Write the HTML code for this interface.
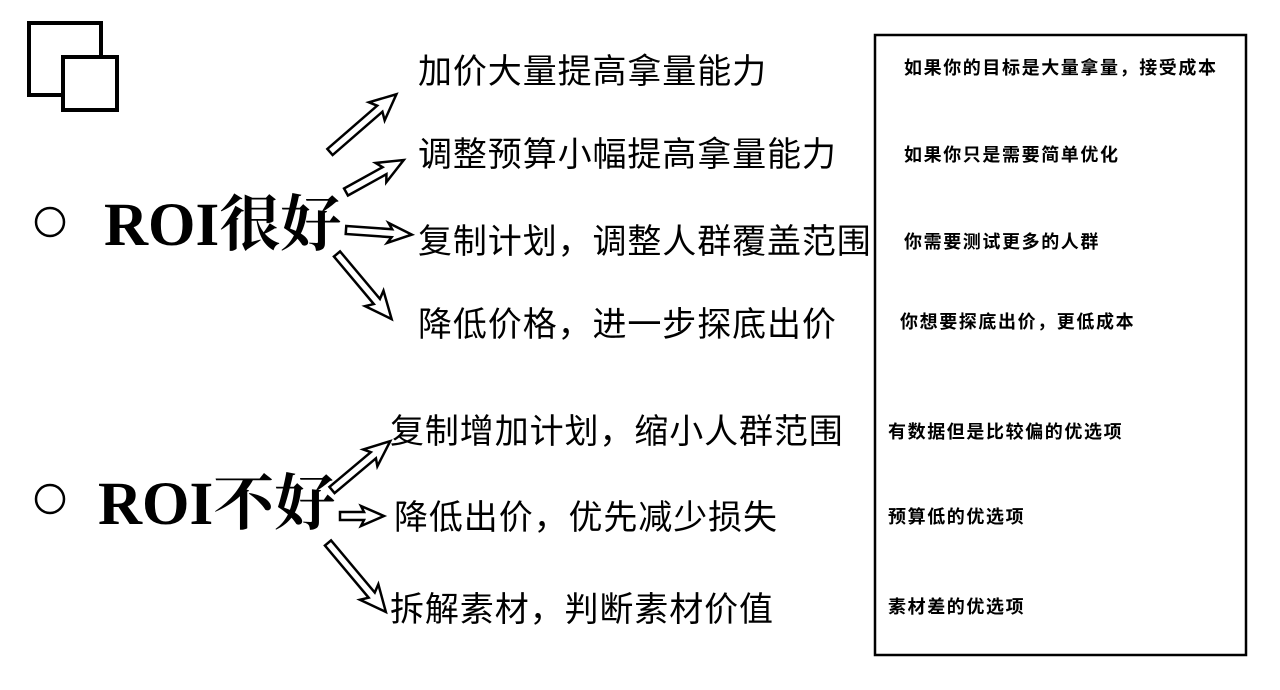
<!DOCTYPE html>
<html><head><meta charset="utf-8"><style>
body{margin:0;width:1280px;height:690px;background:#fff;position:relative;overflow:hidden;font-family:"Liberation Sans","Noto Sans CJK SC",sans-serif;color:#000}
.t{position:absolute;white-space:nowrap;font-size:34px;letter-spacing:0.9px;line-height:1;}
.s{position:absolute;white-space:nowrap;font-size:18px;letter-spacing:1.6px;line-height:1;font-weight:bold}
.big{position:absolute;white-space:nowrap;font-family:"Liberation Serif","Noto Serif CJK SC",serif;font-weight:bold;font-size:61px;line-height:1}
</style></head><body>
<svg width="1280" height="690" style="position:absolute;left:0;top:0">
<rect x="29" y="23" width="72" height="72" fill="none" stroke="#000" stroke-width="4"/>
<rect x="63" y="57" width="54" height="53" fill="#fff" stroke="#000" stroke-width="4"/>
<circle cx="50" cy="222" r="14" fill="none" stroke="#000" stroke-width="2.5"/>
<circle cx="50" cy="499" r="14" fill="none" stroke="#000" stroke-width="2.5"/>
<g fill="#fff" stroke="#000" stroke-width="2.5" stroke-linejoin="miter">
<polygon transform="translate(330,152) rotate(-41)" points="0,-4 66,-4 62,-12 88,0 62,12 66,4 0,4"/>
<polygon transform="translate(346,192) rotate(-29)" points="0,-4 44,-4 40,-11 66,0 40,11 44,4 0,4"/>
<polygon transform="translate(346,230) rotate(4)" points="0,-4 46,-4 42,-10 66,0 42,10 46,4 0,4"/>
<polygon transform="translate(337,254) rotate(50)" points="0,-4 62,-4 58,-12 85,0 58,12 62,4 0,4"/>
<polygon transform="translate(332,490) rotate(-40)" points="0,-4 54,-4 50,-11 76,0 50,11 54,4 0,4"/>
<polygon transform="translate(340,516) rotate(0)" points="0,-4 24,-4 21,-10 44,0 21,10 24,4 0,4"/>
<polygon transform="translate(328,543) rotate(50)" points="0,-4 68,-4 64,-12 90,0 64,12 68,4 0,4"/>
</g>
<rect x="875" y="35" width="371" height="620" fill="none" stroke="#000" stroke-width="2.5"/>
</svg>
<div class="big" style="left:104px;top:195px">ROI很好</div>
<div class="big" style="left:98px;top:474px">ROI不好</div>
<div class="t" style="left:418px;top:55px">加价大量提高拿量能力</div>
<div class="t" style="left:418px;top:138px">调整预算小幅提高拿量能力</div>
<div class="t" style="left:418px;top:225px">复制计划，调整人群覆盖范围</div>
<div class="t" style="left:418px;top:308px">降低价格，进一步探底出价</div>
<div class="t" style="left:390px;top:415px">复制增加计划，缩小人群范围</div>
<div class="t" style="left:394px;top:501px">降低出价，优先减少损失</div>
<div class="t" style="left:390px;top:593px">拆解素材，判断素材价值</div>
<div class="s" style="left:904px;top:59px">如果你的目标是大量拿量，接受成本</div>
<div class="s" style="left:904px;top:146px">如果你只是需要简单优化</div>
<div class="s" style="left:904px;top:233px">你需要测试更多的人群</div>
<div class="s" style="left:900px;top:313px">你想要探底出价，更低成本</div>
<div class="s" style="left:888px;top:423px">有数据但是比较偏的优选项</div>
<div class="s" style="left:888px;top:508px">预算低的优选项</div>
<div class="s" style="left:888px;top:598px">素材差的优选项</div>
</body></html>
